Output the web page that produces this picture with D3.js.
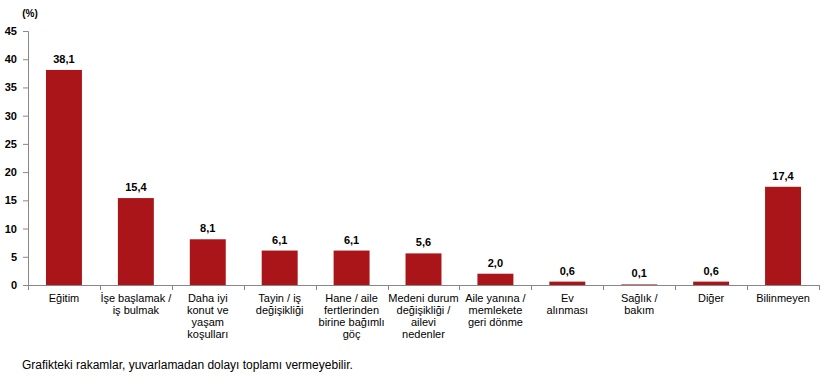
<!DOCTYPE html>
<html>
<head>
<meta charset="utf-8">
<script src="https://cdn.jsdelivr.net/npm/d3@7"></script>
<style>
  body { margin: 0; background: #fff; }
  text { font-family: "Liberation Sans", Arial, sans-serif; fill: #000; }
</style>
</head>
<body>
<svg id="chart" width="838" height="383"></svg>
<script>
const categories = [
  ['Eğitim'],
  ['İşe başlamak /', 'iş bulmak'],
  ['Daha iyi', 'konut ve', 'yaşam', 'koşulları'],
  ['Tayin / iş', 'değişikliği'],
  ['Hane / aile', 'fertlerinden', 'birine bağımlı', 'göç'],
  ['Medeni durum', 'değişikliği /', 'ailevi', 'nedenler'],
  ['Aile yanına /', 'memlekete', 'geri dönme'],
  ['Ev', 'alınması'],
  ['Sağlık /', 'bakım'],
  ['Diğer'],
  ['Bilinmeyen']
];
const values = [38.1, 15.4, 8.1, 6.1, 6.1, 5.6, 2.0, 0.6, 0.1, 0.6, 17.4];
const yTicks = [0, 5, 10, 15, 20, 25, 30, 35, 40, 45];
const unitLabel = '(%)';
const footnote = 'Grafikteki rakamlar, yuvarlamadan dolayı toplamı vermeyebilir.';

const plotLeft = 28, plotRight = 819, plotTop = 31, plotBottom = 285;
const svg = d3.select('#chart');

let x = d3.scaleBand()
  .domain(d3.range(categories.length))
  .range([plotLeft, plotRight])
  .paddingInner(0.5)
  .paddingOuter(0.25);

let y = d3.scaleLinear().domain([0, 45]).range([plotBottom, plotTop]);

// y axis
let yAxis = svg.append('g')
  .attr('transform', `translate(${plotLeft},0)`)
  .call(d3.axisLeft(y).tickValues(yTicks).tickSize(5).tickPadding(6));
yAxis.select('.domain').attr('stroke', '#888');
yAxis.selectAll('.tick line').attr('stroke', '#888');
yAxis.selectAll('.tick text')
  .style('font-family', '"Liberation Sans", Arial, sans-serif')
  .style('font-size', '11px')
  .style('font-weight', 'bold')
  .attr('fill', '#000');

svg.append('text')
  .attr('x', 30)
  .attr('y', 17)
  .attr('text-anchor', 'middle')
  .style('font-size', '10px')
  .style('font-weight', 'bold')
  .text(unitLabel);

// bars
svg.selectAll('rect.bar')
  .data(values)
  .enter()
  .append('rect')
    .attr('class', 'bar')
    .attr('x', (d, i) => x(i))
    .attr('width', x.bandwidth())
    .attr('y', d => y(d))
    .attr('height', d => y(0) - y(d))
    .attr('fill', '#aa1519');

// value labels
svg.selectAll('text.value')
  .data(values)
  .enter()
  .append('text')
    .attr('class', 'value')
    .attr('x', (d, i) => x(i) + x.bandwidth() / 2)
    .attr('y', d => y(d) - 7)
    .attr('text-anchor', 'middle')
    .style('font-size', '11px')
    .style('font-weight', 'bold')
    .text(d => d.toFixed(1).replace('.', ','));

// x axis line and tick marks at band boundaries
let step = x.step();
svg.append('line')
  .attr('x1', plotLeft).attr('x2', plotRight)
  .attr('y1', plotBottom + 0.5).attr('y2', plotBottom + 0.5)
  .attr('stroke', '#888');
svg.selectAll('line.xtick')
  .data(d3.range(categories.length + 1))
  .enter()
  .append('line')
    .attr('class', 'xtick')
    .attr('x1', i => Math.round(plotLeft + i * step) + 0.5)
    .attr('x2', i => Math.round(plotLeft + i * step) + 0.5)
    .attr('y1', plotBottom)
    .attr('y2', plotBottom + 5)
    .attr('stroke', '#888');

// category labels
let cat = svg.selectAll('text.cat')
  .data(categories)
  .enter()
  .append('text')
    .attr('class', 'cat')
    .attr('text-anchor', 'middle')
    .style('font-size', '11px');
cat.selectAll('tspan')
  .data((d, i) => d.map(line => ({ line, i })))
  .enter()
  .append('tspan')
    .attr('x', d => x(d.i) + x.bandwidth() / 2)
    .attr('y', (d, j) => 302 + j * 12)
    .text(d => d.line);

svg.append('text')
  .attr('x', 22)
  .attr('y', 369)
  .style('font-size', '12px')
  .text(footnote);
</script>
</body>
</html>
